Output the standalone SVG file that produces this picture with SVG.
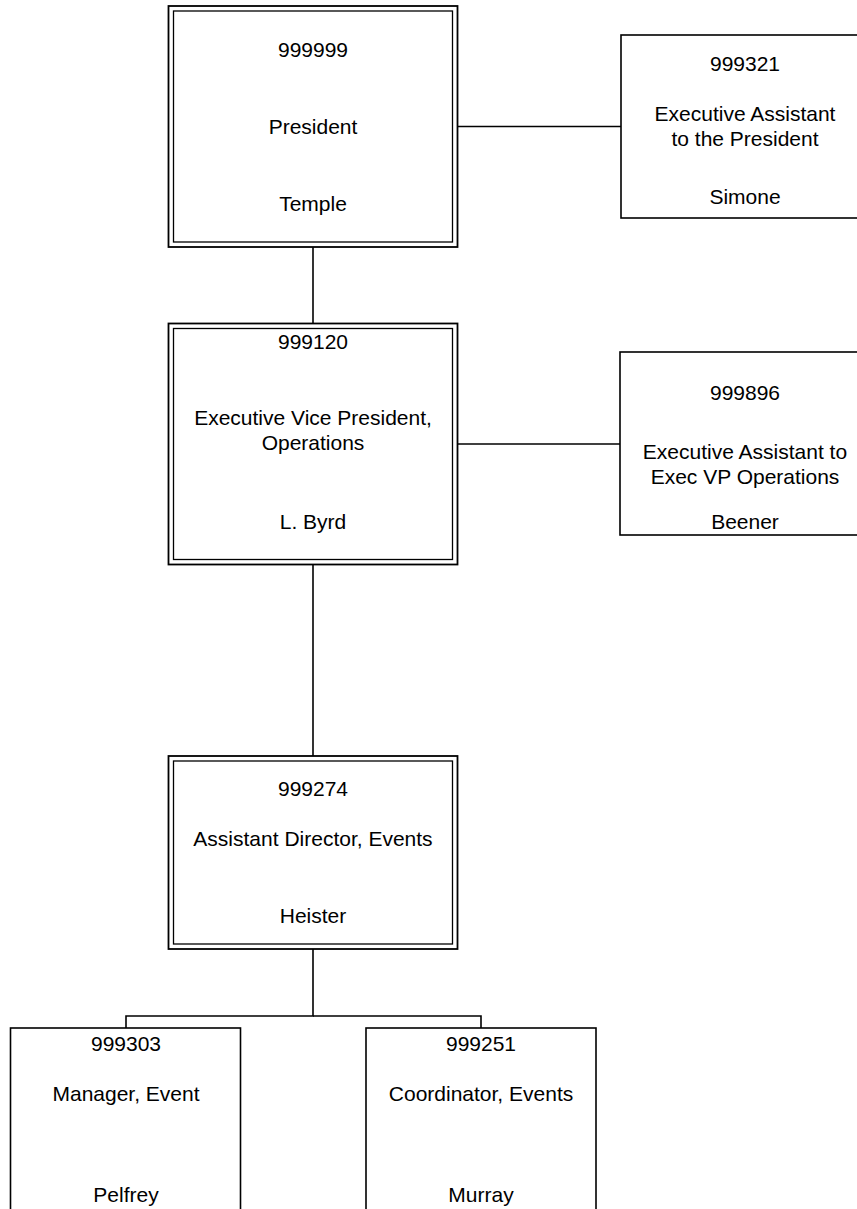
<svg xmlns="http://www.w3.org/2000/svg" width="857" height="1209" viewBox="0 0 857 1209">
<style>
text { font-family: "Liberation Sans", Arial, sans-serif; font-size: 21px; fill: #000; text-anchor: middle; }
.outer { fill: #fff; stroke: #000; stroke-width: 1.8; }
.inner { fill: none; stroke: #000; stroke-width: 1.3; }
.box { fill: #fff; stroke: #000; stroke-width: 1.6; }
.conn { fill: none; stroke: #000; stroke-width: 1.6; }
</style>
<rect width="857" height="1209" fill="#fff"/>
<g id="connectors">
<line class="conn" x1="313" y1="247" x2="313" y2="323.5"/>
<line class="conn" x1="458" y1="126.5" x2="621" y2="126.5"/>
<line class="conn" x1="458" y1="444" x2="620" y2="444"/>
<line class="conn" x1="313" y1="564.5" x2="313" y2="756"/>
<polyline class="conn" points="313,949 313,1016 126,1016 126,1028"/>
<polyline class="conn" points="313,1016 481,1016 481,1028"/>
</g>
<g id="n999999">
<rect class="outer" x="168.5" y="6" width="289" height="241"/>
<rect class="inner" x="173.5" y="11" width="279" height="231"/>
<text x="313" y="57">999999</text>
<text x="313" y="134">President</text>
<text x="313" y="211">Temple</text>
</g>
<g id="n999321">
<rect class="box" x="621" y="35" width="250" height="183"/>
<text x="745" y="70.5">999321</text>
<text x="745" y="121">Executive Assistant</text>
<text x="745" y="146">to the President</text>
<text x="745" y="204">Simone</text>
</g>
<g id="n999120">
<rect class="outer" x="168.5" y="323.5" width="289" height="241"/>
<rect class="inner" x="173.5" y="328.5" width="279" height="231"/>
<text x="313" y="348.5">999120</text>
<text x="313" y="425">Executive Vice President,</text>
<text x="313" y="450">Operations</text>
<text x="313" y="528.5">L. Byrd</text>
</g>
<g id="n999896">
<rect class="box" x="620" y="352" width="250" height="183"/>
<text x="745" y="400">999896</text>
<text x="745" y="458.5">Executive Assistant to</text>
<text x="745" y="484">Exec VP Operations</text>
<text x="745" y="528.5">Beener</text>
</g>
<g id="n999274">
<rect class="outer" x="168.5" y="756" width="289" height="193"/>
<rect class="inner" x="173.5" y="761" width="279" height="183"/>
<text x="313" y="796">999274</text>
<text x="313" y="846">Assistant Director, Events</text>
<text x="313" y="923">Heister</text>
</g>
<g id="n999303">
<rect class="box" x="10.5" y="1028" width="230" height="200"/>
<text x="126" y="1050.5">999303</text>
<text x="126" y="1101">Manager, Event</text>
<text x="126" y="1201.5">Pelfrey</text>
</g>
<g id="n999251">
<rect class="box" x="366" y="1028" width="230" height="200"/>
<text x="481" y="1050.5">999251</text>
<text x="481" y="1101">Coordinator, Events</text>
<text x="481" y="1201.5">Murray</text>
</g>
</svg>
